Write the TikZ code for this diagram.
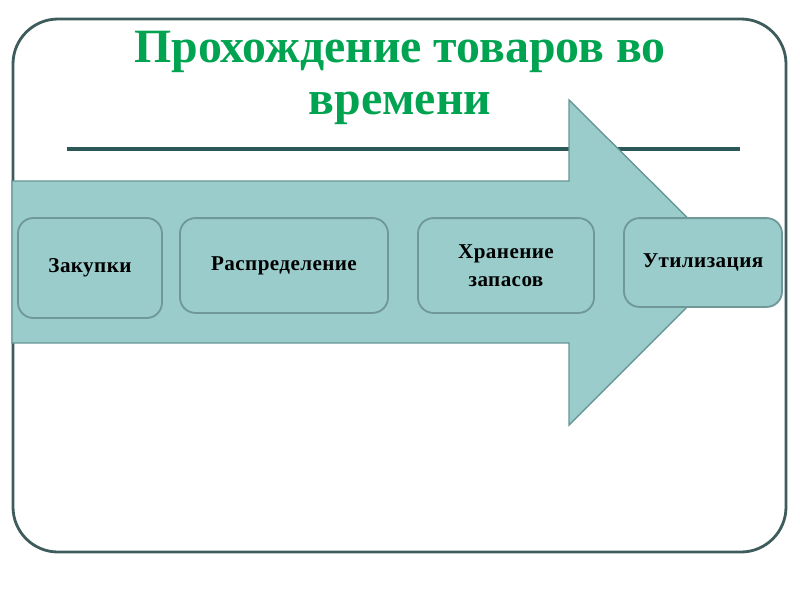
\documentclass[tikz,border=0pt]{standalone}
\usepackage{fontspec}
\setmainfont{Liberation Serif}
\usepackage{xcolor}

\definecolor{titlegreen}{RGB}{0,163,80}
\definecolor{framecol}{RGB}{62,92,92}
\definecolor{rulecol}{RGB}{45,88,88}
\definecolor{arrowfill}{RGB}{154,204,204}
\definecolor{arrowline}{RGB}{104,150,150}
\definecolor{boxline}{RGB}{112,152,152}

\tikzset{
    stagebox/.style={draw=boxline, fill=arrowfill, line width=1.3pt, rounded corners=11pt,
        align=center, font=\bfseries\fontsize{15}{20}\selectfont\addfontfeatures{LetterSpace=2}},
    titletext/.style={text=titlegreen, font=\bfseries\fontsize{34}{38}\selectfont}
}

\begin{document}
\begin{tikzpicture}[x=0.025cm,y=-0.025cm]
    \useasboundingbox (0,0) rectangle (800,600);
    \draw[framecol, line width=2pt, rounded corners=32pt] (13,19) rectangle (786,552);
    \node[titletext] (title1) at (400,52) {Прохождение товаров во};
    \node[titletext] (title2) at (400,108) {времени};
    \draw[rulecol, line width=2.2pt] (67,149) -- (740,149);
    % big arrow
    \draw[fill=arrowfill, draw=arrowline, line width=1pt] (12,181) -- (569,181) -- (569,100) -- (732,262)
        -- (569,425) -- (569,343) -- (12,343) -- cycle;
    \node[stagebox, minimum width=3.6cm, minimum height=2.5cm] (buy) at (90,268) {Закупки};
    \node[stagebox, minimum width=5.2cm, minimum height=2.37cm] (distrib) at (284,265.5) {Распределение};
    \node[stagebox, minimum width=4.4cm, minimum height=2.37cm] (store) at (506,265.5) {Хранение\\запасов};
    \node[stagebox, minimum width=3.95cm, minimum height=2.22cm] (dispose) at (703,262.5) {Утилизация};
\end{tikzpicture}
\end{document}
